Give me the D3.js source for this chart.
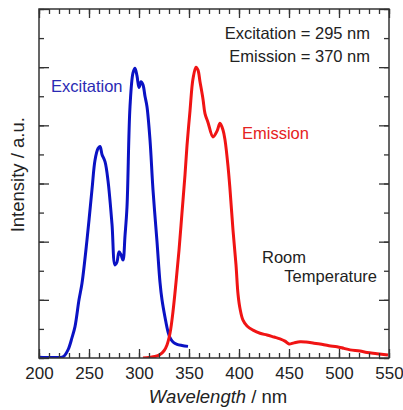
<!DOCTYPE html>
<html>
<head>
<meta charset="utf-8">
<script src="https://cdn.jsdelivr.net/npm/d3@7"></script>
<style>
  body { margin: 0; background: #fff; }
  svg text { font-family: "Liberation Sans", Arial, sans-serif; }
</style>
</head>
<body>
<div id="chart"></div>
<script>
// wavelength (nm) / normalized intensity
const excWl = [200, 215, 224, 229, 233, 236, 240, 243, 248, 253, 256, 259, 261, 263, 266, 269, 273, 276, 278, 280, 282, 284, 286, 288, 291, 294, 296, 298, 300, 302, 304, 306, 308, 311, 314, 318, 321, 323, 326, 329, 331, 334, 338, 343, 349];
const excI  = [0.003, 0.002, 0.004, 0.028, 0.07, 0.108, 0.2, 0.257, 0.406, 0.58, 0.68, 0.72, 0.727, 0.70, 0.675, 0.61, 0.46, 0.32, 0.33, 0.365, 0.355, 0.337, 0.42, 0.52, 0.864, 0.98, 0.996, 0.97, 0.93, 0.95, 0.939, 0.9, 0.864, 0.75, 0.578, 0.40, 0.26, 0.2, 0.14, 0.09, 0.07, 0.055, 0.047, 0.043, 0.04];

const emWl = [304, 310, 316, 321, 325, 328, 331, 334, 337, 340, 343, 346, 348, 351, 354, 357, 359, 361, 364, 366, 369, 374, 378, 381, 384, 386, 389, 391, 394, 397, 399, 401, 404, 408, 414, 421, 428, 435, 441, 446, 450, 455, 461, 467, 475, 481, 490, 498, 505, 511, 521, 528, 538, 549];
const emI  = [0.0, 0.002, 0.005, 0.012, 0.025, 0.045, 0.085, 0.16, 0.26, 0.37, 0.50, 0.63, 0.73, 0.85, 0.96, 1.0, 0.99, 0.95, 0.89, 0.84, 0.81, 0.76, 0.78, 0.807, 0.784, 0.75, 0.66, 0.58, 0.44, 0.32, 0.22, 0.17, 0.13, 0.11, 0.096, 0.085, 0.079, 0.072, 0.066, 0.058, 0.048, 0.052, 0.056, 0.055, 0.051, 0.048, 0.042, 0.039, 0.033, 0.028, 0.024, 0.019, 0.015, 0.01];

const xMajor = [200, 250, 300, 350, 400, 450, 500, 550];
const xMinor = d3.range(200, 551, 10);
const yMajor = [0, 0.2, 0.4, 0.6, 0.8, 1.0, 1.2];
const yMinor = [0, 0.1, 0.2, 0.3, 0.4, 0.5, 0.6, 0.7, 0.8, 0.9, 1.0, 1.1, 1.2];

const W = 403, H = 410;
const m = {left: 39, right: 14, top: 9, bottom: 52};

const svg = d3.select("#chart").append("svg")
    .attr("width", W).attr("height", H);

const x = d3.scaleLinear().domain([200, 550]).range([m.left, W - m.right]);
const y = d3.scaleLinear().domain([0, 1.2]).range([H - m.bottom, m.top]);

svg.append("clipPath").attr("id", "clip")
  .append("rect")
    .attr("x", m.left).attr("y", m.top)
    .attr("width", x(550) - x(200)).attr("height", y(0) - y(1.2));

const line = d3.line()
    .x(d => x(d[0]))
    .y(d => y(d[1]))
    .curve(d3.curveCatmullRom.alpha(0.5));

const plot = svg.append("g").attr("clip-path", "url(#clip)");

plot.append("path")
    .attr("d", line(excWl.map((w, i) => [w, excI[i]])))
    .attr("fill", "none")
    .attr("stroke", "#0a12c4")
    .attr("stroke-width", 3)
    .attr("stroke-linejoin", "round");

plot.append("path")
    .attr("d", line(emWl.map((w, i) => [w, emI[i]])))
    .attr("fill", "none")
    .attr("stroke", "#f01414")
    .attr("stroke-width", 3)
    .attr("stroke-linejoin", "round");

// axes, ticks pointing inward on all four sides
function styleAxis(g) {
    g.select(".domain").remove();
    g.selectAll(".tick line").attr("stroke", "#333").attr("stroke-width", 1.3);
}

svg.append("g")
    .attr("transform", `translate(0,${y(0)})`)
    .call(d3.axisBottom(x).tickValues(xMinor).tickSize(-5).tickFormat(""))
    .call(styleAxis);
svg.append("g")
    .attr("transform", `translate(0,${y(0)})`)
    .call(d3.axisBottom(x).tickValues(xMajor).tickSize(-9).tickPadding(9).tickFormat(d3.format("d")))
    .call(styleAxis)
    .call(g => g.selectAll("text").attr("font-size", 17).attr("fill", "#222"));

svg.append("g")
    .attr("transform", `translate(0,${y(1.2)})`)
    .call(d3.axisTop(x).tickValues(xMinor).tickSize(-5).tickFormat(""))
    .call(styleAxis);
svg.append("g")
    .attr("transform", `translate(0,${y(1.2)})`)
    .call(d3.axisTop(x).tickValues(xMajor).tickSize(-9).tickFormat(""))
    .call(styleAxis);

svg.append("g")
    .attr("transform", `translate(${x(200)},0)`)
    .call(d3.axisLeft(y).tickValues(yMinor).tickSize(-5).tickFormat(""))
    .call(styleAxis);
svg.append("g")
    .attr("transform", `translate(${x(200)},0)`)
    .call(d3.axisLeft(y).tickValues(yMajor).tickSize(-10).tickFormat(""))
    .call(styleAxis);

svg.append("g")
    .attr("transform", `translate(${x(550)},0)`)
    .call(d3.axisRight(y).tickValues(yMinor).tickSize(-5).tickFormat(""))
    .call(styleAxis);
svg.append("g")
    .attr("transform", `translate(${x(550)},0)`)
    .call(d3.axisRight(y).tickValues(yMajor).tickSize(-10).tickFormat(""))
    .call(styleAxis);

// frame
svg.append("rect")
    .attr("x", x(200)).attr("y", y(1.2))
    .attr("width", x(550) - x(200)).attr("height", y(0) - y(1.2))
    .attr("fill", "none")
    .attr("stroke", "#333")
    .attr("stroke-width", 1.5);

// axis titles
const xt = svg.append("text")
    .attr("x", (x(200) + x(550)) / 2 + 4)
    .attr("y", 403)
    .attr("text-anchor", "middle")
    .attr("font-size", 18.5)
    .attr("fill", "#222");
xt.append("tspan").attr("font-style", "italic").text("Wavelength");
xt.append("tspan").text(" / nm");

svg.append("text")
    .attr("transform", `translate(24,${y(0.63)}) rotate(-90)`)
    .attr("text-anchor", "middle")
    .attr("font-size", 18.5)
    .attr("fill", "#222")
    .text("Intensity / a.u.");

// annotations
svg.append("text")
    .attr("x", 370).attr("y", 39)
    .attr("text-anchor", "end")
    .attr("font-size", 16.5)
    .attr("fill", "#222")
    .text("Excitation = 295 nm");
svg.append("text")
    .attr("x", 370).attr("y", 62)
    .attr("text-anchor", "end")
    .attr("font-size", 16.5)
    .attr("fill", "#222")
    .text("Emission = 370 nm");

svg.append("text")
    .attr("x", 51).attr("y", 92)
    .attr("font-size", 16.5)
    .attr("fill", "#2a2ab4")
    .text("Excitation");
svg.append("text")
    .attr("x", 242).attr("y", 139)
    .attr("font-size", 16.5)
    .attr("fill", "#e52222")
    .text("Emission");

svg.append("text")
    .attr("x", 262).attr("y", 263)
    .attr("font-size", 16.5)
    .attr("fill", "#222")
    .text("Room");
svg.append("text")
    .attr("x", 377).attr("y", 282)
    .attr("text-anchor", "end")
    .attr("font-size", 16.5)
    .attr("fill", "#222")
    .text("Temperature");
</script>
</body>
</html>
